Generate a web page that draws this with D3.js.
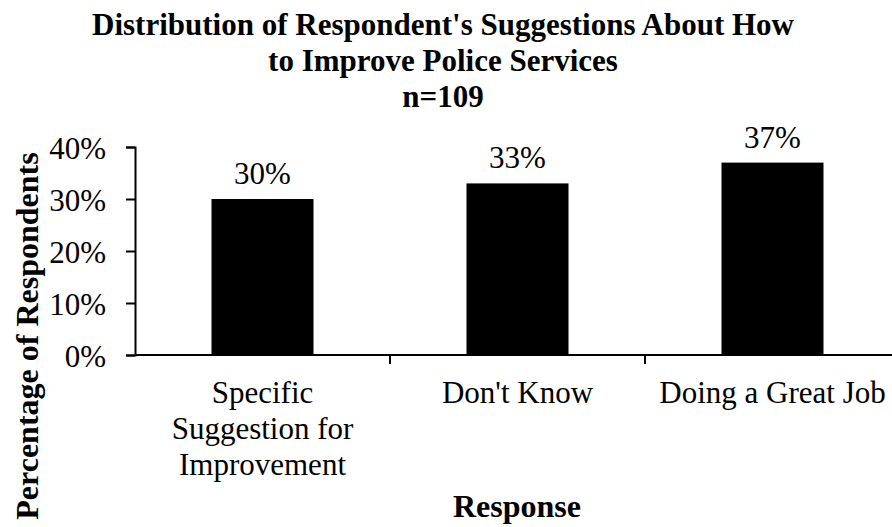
<!DOCTYPE html>
<html>
<head>
<meta charset="utf-8">
<script src="https://cdn.jsdelivr.net/npm/d3@7"></script>
<style>
  html, body { margin: 0; padding: 0; background: #fff; }
  svg { display: block; }
  text { font-family: "Liberation Serif", "Times New Roman", serif; fill: #000; }
</style>
</head>
<body>
<svg id="chart" width="892" height="527"></svg>
<script>
const categories = [
  ["Specific", "Suggestion for", "Improvement"],
  ["Don't Know"],
  ["Doing a Great Job"]
];
const values = [30, 33, 37];
const yTicks = [0, 10, 20, 30, 40];
const titleLines = ["Distribution of Respondent's Suggestions About How", "to Improve Police Services", "n=109"];

const svg = d3.select("#chart");
const x = d3.scaleBand().domain(d3.range(categories.length)).range([135, 900]).paddingInner(0.6).paddingOuter(0.3);
const y = d3.scaleLinear().domain([0, 40]).range([355, 147]);

// Title
svg.append("g").selectAll("text").data(titleLines).join("text")
  .attr("x", 443).attr("y", (d, i) => 35 + i * 36)
  .attr("text-anchor", "middle").attr("font-weight", "bold").attr("font-size", 31)
  .text(d => d);

// Bars
svg.append("g").selectAll("rect").data(values).join("rect")
  .attr("x", (d, i) => x(i)).attr("width", x.bandwidth())
  .attr("y", d => y(d)).attr("height", d => y(0) - y(d))
  .attr("fill", "#000");

// Value labels
svg.append("g").selectAll("text").data(values).join("text")
  .attr("x", (d, i) => x(i) + x.bandwidth() / 2).attr("y", d => y(d) - 15)
  .attr("text-anchor", "middle").attr("font-size", 31)
  .text(d => d + "%");

// Y axis
const yAxis = svg.append("g").attr("transform", "translate(135,0)")
  .call(d3.axisLeft(y).tickValues(yTicks).tickFormat(d => d + "%").tickSize(9).tickSizeOuter(9));
yAxis.attr("font-family", null).attr("font-size", null);
yAxis.select(".domain").attr("stroke", "#000").attr("stroke-width", 2);
yAxis.selectAll(".tick line").attr("stroke-width", 2);
yAxis.selectAll(".tick text").attr("font-size", 31).attr("x", -29).attr("dy", "0.36em");

// X axis
const step = x.step();
const xBound = d3.scaleLinear().domain([0, categories.length]).range([135, 135 + step * categories.length]);
const xAxisG = svg.append("g");
xAxisG.append("line").attr("x1", 135).attr("x2", 892).attr("y1", y(0)).attr("y2", y(0))
  .attr("stroke", "#000").attr("stroke-width", 2);
xAxisG.selectAll("line.tk").data(d3.range(1, categories.length)).join("line").attr("class", "tk")
  .attr("x1", d => xBound(d)).attr("x2", d => xBound(d))
  .attr("y1", y(0)).attr("y2", y(0) + 9).attr("stroke", "#000").attr("stroke-width", 2);

// X category labels
const catG = svg.append("g").selectAll("text").data(categories).join("text")
  .attr("text-anchor", "middle").attr("font-size", 31);
catG.each(function (lines, i) {
  d3.select(this).selectAll("tspan").data(lines).join("tspan")
    .attr("x", x(i) + x.bandwidth() / 2).attr("y", (d, j) => 403 + j * 36).text(d => d);
});

// Axis titles
svg.append("text").attr("x", 517).attr("y", 517).attr("text-anchor", "middle")
  .attr("font-weight", "bold").attr("font-size", 32).text("Response");
svg.append("text").attr("transform", "translate(38,336) rotate(-90)").attr("text-anchor", "middle")
  .attr("font-weight", "bold").attr("font-size", 32).text("Percentage of Respondents");
</script>
</body>
</html>
